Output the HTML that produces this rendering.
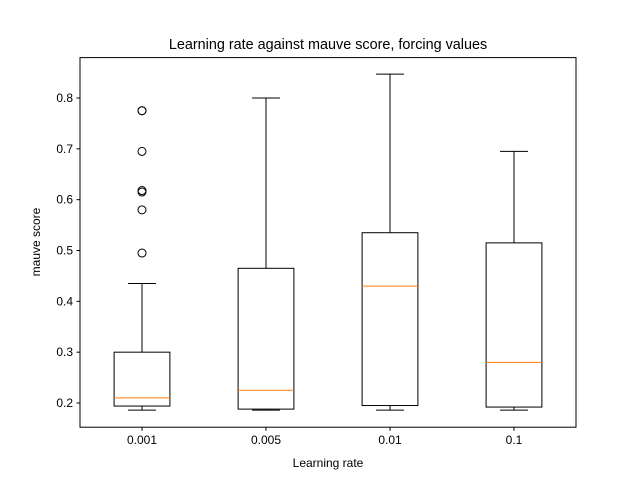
<!DOCTYPE html>
<html><head><meta charset="utf-8"><style>body{margin:0;background:#fff}svg{display:block;font-family:"Liberation Sans","DejaVu Sans",sans-serif}</style></head>
<body>
<svg id="c" width="640" height="480"></svg>
<script>
const categories=["0.001","0.005","0.01","0.1"];
const whiskerLow=[0.186,0.186,0.186,0.186];
const q1=[0.194,0.188,0.195,0.192];
const medians=[0.21,0.225,0.43,0.28];
const q3=[0.30,0.465,0.535,0.515];
const whiskerHigh=[0.435,0.80,0.847,0.695];
const outliers=[[0.775,0.775,0.695,0.618,0.615,0.58,0.495],[],[],[]];
const yTicks=[0.2,0.3,0.4,0.5,0.6,0.7,0.8];
const L=80,R=576,T=57.6,B=427.2,ymin=0.1524,ymax=0.8795;
const X=i=>L+(i+0.5)*(R-L)/categories.length;
const Y=v=>B-(v-ymin)/(ymax-ymin)*(B-T);
const svg=document.getElementById('c');const NS="http://www.w3.org/2000/svg";
function el(t,a,p){const e=document.createElementNS(NS,t);for(const k in a)e.setAttribute(k,a[k]);(p||svg).appendChild(e);return e;}
function txt(s,a){const e=el('text',a);e.textContent=s;return e;}
const bw=0.45*(R-L)/categories.length;
categories.forEach((c,i)=>{
 const g=el('g',{});
 
 
 const x=X(i);
 el('line',{x1:x,x2:x,y1:Y(q1[i]),y2:Y(whiskerLow[i]),stroke:'#000'},g);
 el('line',{x1:x,x2:x,y1:Y(q3[i]),y2:Y(whiskerHigh[i]),stroke:'#000'},g);
 el('line',{x1:x-bw/4,x2:x+bw/4,y1:Y(whiskerLow[i]),y2:Y(whiskerLow[i]),stroke:'#000'},g);
 el('line',{x1:x-bw/4,x2:x+bw/4,y1:Y(whiskerHigh[i]),y2:Y(whiskerHigh[i]),stroke:'#000'},g);
 el('rect',{x:x-bw/2,y:Y(q3[i]),width:bw,height:Y(q1[i])-Y(q3[i]),fill:'none',stroke:'#000'},g);
 el('line',{x1:x-bw/2,x2:x+bw/2,y1:Y(medians[i]),y2:Y(medians[i]),stroke:'#ff7f0e'},g);
 outliers[i].forEach(v=>{const o=el('circle',{cx:x,cy:Y(v),r:4,fill:'none',stroke:'#000'},g);
  
  });
 el('line',{x1:x,x2:x,y1:B,y2:B+3.5,stroke:'#000'});
 const t=txt(c,{x:x,y:B+17,'font-size':12,'text-anchor':'middle'});
 
 
});
yTicks.forEach(v=>{el('line',{x1:L-3.5,x2:L,y1:Y(v),y2:Y(v),stroke:'#000'});
 const t=txt(v.toFixed(1),{x:L-7,y:Y(v)+4,'font-size':12,'text-anchor':'end'});
 
 });
const f=el('rect',{x:L,y:T,width:R-L,height:B-T,fill:'none',stroke:'#000'});

let t=txt('Learning rate against mauve score, forcing values',{x:(L+R)/2,y:49,'font-size':14.4,'text-anchor':'middle'});

t=txt('Learning rate',{x:(L+R)/2,y:467,'font-size':12,'text-anchor':'middle'});

t=txt('mauve score',{x:0,y:0,'font-size':12,'text-anchor':'middle',transform:'translate(40,242) rotate(-90)'});

</script>
</body></html>
